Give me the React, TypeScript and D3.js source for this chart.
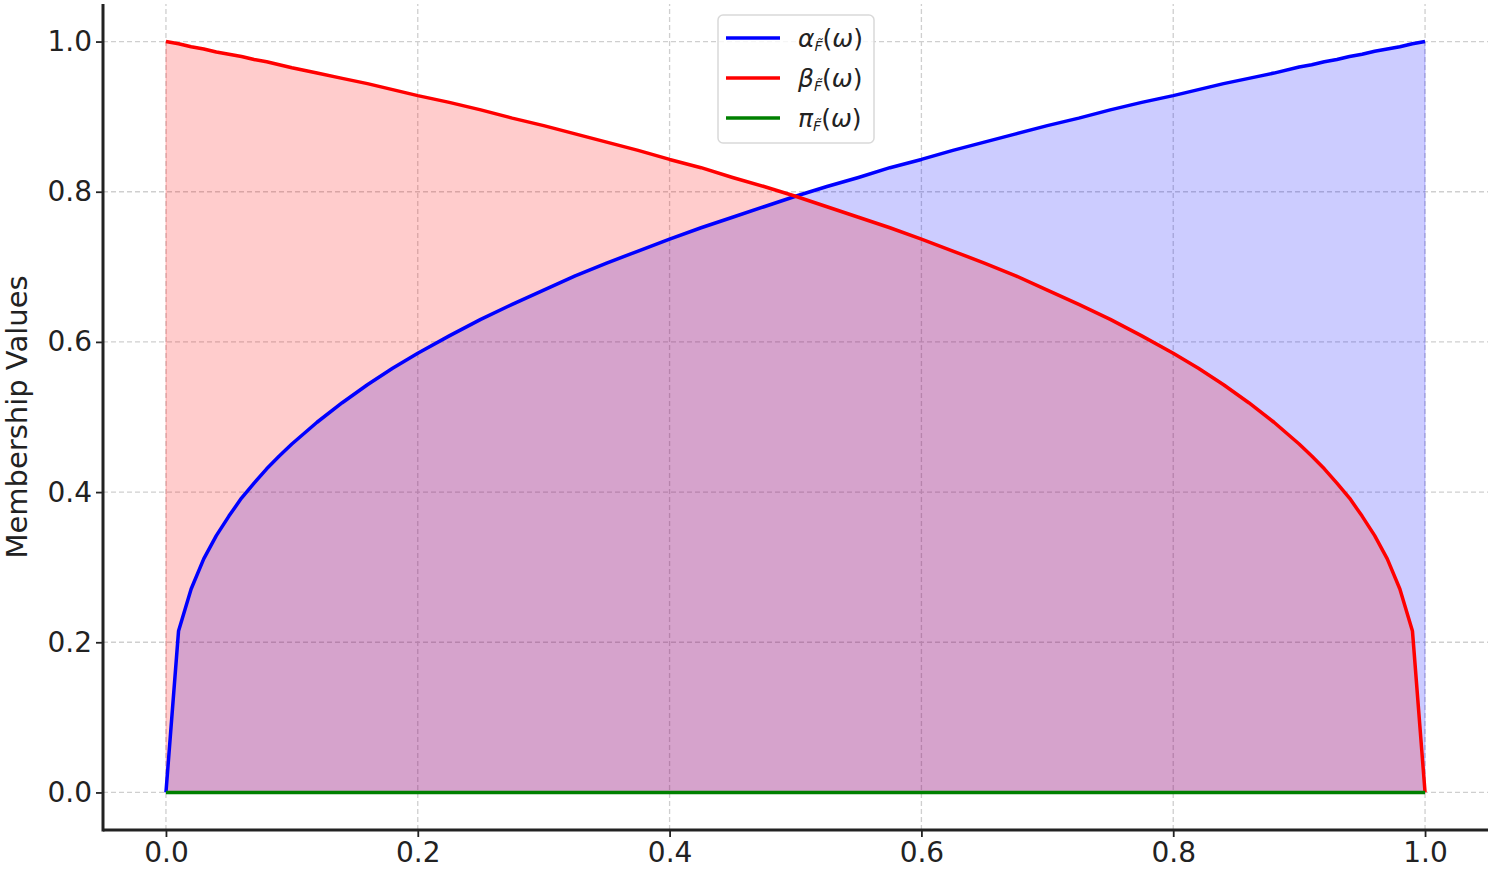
import React, { useRef, useEffect } from "react";
import * as d3 from "d3";

// sample points (omega) and the membership values
const omega = [
  0, 0.01, 0.02, 0.03, 0.04, 0.05, 0.06, 0.07, 0.08, 0.09, 0.1, 0.12, 0.14,
  0.16, 0.18, 0.2, 0.225, 0.25, 0.275, 0.3, 0.325, 0.35, 0.375, 0.4, 0.425,
  0.45, 0.475, 0.5, 0.525, 0.55, 0.575, 0.6, 0.625, 0.65, 0.675, 0.7, 0.725,
  0.75, 0.775, 0.8, 0.82, 0.84, 0.86, 0.88, 0.9, 0.91, 0.92, 0.93, 0.94, 0.95,
  0.96, 0.97, 0.98, 0.99, 1.0,
];
const alphaValues = [
  0, 0.215, 0.271, 0.311, 0.342, 0.368, 0.392, 0.412, 0.431, 0.448, 0.464,
  0.493, 0.519, 0.543, 0.565, 0.585, 0.608, 0.63, 0.65, 0.669, 0.688, 0.705,
  0.721, 0.737, 0.752, 0.766, 0.78, 0.794, 0.807, 0.819, 0.832, 0.843, 0.855,
  0.866, 0.877, 0.888, 0.898, 0.909, 0.919, 0.928, 0.936, 0.944, 0.951, 0.958,
  0.966, 0.969, 0.973, 0.976, 0.98, 0.983, 0.987, 0.99, 0.993, 0.997, 1.0,
];
const betaValues = [
  1.0, 0.997, 0.993, 0.99, 0.986, 0.983, 0.98, 0.976, 0.973, 0.969, 0.965,
  0.958, 0.951, 0.944, 0.936, 0.928, 0.919, 0.909, 0.898, 0.888, 0.877, 0.866,
  0.855, 0.843, 0.832, 0.819, 0.807, 0.794, 0.78, 0.766, 0.752, 0.737, 0.721,
  0.705, 0.688, 0.669, 0.65, 0.63, 0.608, 0.585, 0.565, 0.543, 0.519, 0.493,
  0.464, 0.448, 0.431, 0.412, 0.392, 0.368, 0.342, 0.311, 0.271, 0.215, 0,
];
const piValues = omega.map(() => 0);

const xTicks = [0, 0.2, 0.4, 0.6, 0.8, 1.0];
const yTicks = [0, 0.2, 0.4, 0.6, 0.8, 1.0];

const legendItems = [
  { color: "#0000ff", sym: "α" },
  { color: "#ff0000", sym: "β" },
  { color: "#008000", sym: "π" },
];

const W = 1499;
const H = 874;
const FONT = "'DejaVu Sans', sans-serif";

const App: React.FC = () => {
  const svgRef = useRef<SVGSVGElement>(null);

  useEffect(() => {
    if (!svgRef.current) return;
    const svg = d3.select(svgRef.current);
    svg.selectAll("*").remove();

    const margin = { top: 4, right: 11, bottom: 44, left: 103 };

    const x = d3
      .scaleLinear()
      .domain([-0.05, 1.05])
      .range([margin.left, W - margin.right]);
    const y = d3
      .scaleLinear()
      .domain([-0.05, 1.05])
      .range([H - margin.bottom, margin.top]);

    // Grid
    const grid = svg.append("g");
    xTicks.forEach((t) => {
      grid
        .append("line")
        .attr("x1", x(t))
        .attr("x2", x(t))
        .attr("y1", y(-0.05))
        .attr("y2", y(1.05))
        .attr("stroke", "#cfcfcf")
        .attr("stroke-width", 1.3)
        .attr("stroke-dasharray", "5,3");
    });
    yTicks.forEach((t) => {
      grid
        .append("line")
        .attr("x1", x(-0.05))
        .attr("x2", x(1.05))
        .attr("y1", y(t))
        .attr("y2", y(t))
        .attr("stroke", "#cfcfcf")
        .attr("stroke-width", 1.3)
        .attr("stroke-dasharray", "5,3");
    });

    const idx = d3.range(omega.length);

    const area = (vals: number[]) =>
      d3
        .area<number>()
        .x((i) => x(omega[i]))
        .y0(y(0))
        .y1((i) => y(vals[i]))(idx);

    // Fills: blue first, then red on top
    svg
      .append("path")
      .attr("d", area(alphaValues))
      .attr("fill", "#0000ff")
      .attr("fill-opacity", 0.2)
      .attr("stroke", "#0000ff")
      .attr("stroke-opacity", 0.2)
      .attr("stroke-width", 1);
    svg
      .append("path")
      .attr("d", area(betaValues))
      .attr("fill", "#ff0000")
      .attr("fill-opacity", 0.2)
      .attr("stroke", "#ff0000")
      .attr("stroke-opacity", 0.2)
      .attr("stroke-width", 1);

    const line = (vals: number[]) =>
      d3
        .line<number>()
        .x((i) => x(omega[i]))
        .y((i) => y(vals[i]))(idx);

    [
      { vals: alphaValues, color: "#0000ff" },
      { vals: betaValues, color: "#ff0000" },
      { vals: piValues, color: "#008000" },
    ].forEach((s) => {
      svg
        .append("path")
        .attr("d", line(s.vals))
        .attr("fill", "none")
        .attr("stroke", s.color)
        .attr("stroke-width", 3.5)
        .attr("stroke-linejoin", "round");
    });

    // Axes
    const xAxis = svg
      .append("g")
      .attr("transform", `translate(0,${y(-0.05)})`)
      .call(
        d3
          .axisBottom(x)
          .tickValues(xTicks)
          .tickFormat(d3.format(".1f"))
          .tickSize(7)
          .tickPadding(5)
      );
    const yAxis = svg
      .append("g")
      .attr("transform", `translate(${x(-0.05)},0)`)
      .call(
        d3
          .axisLeft(y)
          .tickValues(yTicks)
          .tickFormat(d3.format(".1f"))
          .tickSize(7)
          .tickPadding(4)
      );
    [xAxis, yAxis].forEach((a) => {
      a.select(".domain").remove();
      a.selectAll(".tick line").attr("stroke", "#222").attr("stroke-width", 1.8);
      a.selectAll("text")
        .attr("font-family", FONT)
        .attr("font-size", 28)
        .attr("fill", "#222");
    });
    svg
      .append("line")
      .attr("x1", x(-0.05))
      .attr("x2", x(1.05))
      .attr("y1", y(-0.05))
      .attr("y2", y(-0.05))
      .attr("stroke", "#222")
      .attr("stroke-width", 3);
    svg
      .append("line")
      .attr("x1", x(-0.05))
      .attr("x2", x(-0.05))
      .attr("y1", y(-0.05) + 1.5)
      .attr("y2", y(1.05))
      .attr("stroke", "#222")
      .attr("stroke-width", 3);

    // Y label
    svg
      .append("text")
      .attr("transform", `translate(27,${(y(-0.05) + y(1.05)) / 2}) rotate(-90)`)
      .attr("text-anchor", "middle")
      .attr("font-family", FONT)
      .attr("font-size", 29)
      .attr("fill", "#222")
      .text("Membership Values");

    // Legend
    const legend = svg.append("g").attr("transform", "translate(718,15)");
    legend
      .append("rect")
      .attr("width", 156)
      .attr("height", 128)
      .attr("rx", 5)
      .attr("fill", "#fff")
      .attr("fill-opacity", 0.8)
      .attr("stroke", "#d9d9d9")
      .attr("stroke-width", 1.5);

    legendItems.forEach((item, i) => {
      const g = legend.append("g").attr("transform", `translate(0,${23 + i * 40})`);
      g.append("line")
        .attr("x1", 8)
        .attr("x2", 62)
        .attr("stroke", item.color)
        .attr("stroke-width", 3.5);
      const t = g
        .append("text")
        .attr("x", 80)
        .attr("y", 9)
        .attr("font-family", FONT)
        .attr("font-size", 25)
        .attr("fill", "#222");
      t.append("tspan").attr("font-style", "italic").text(item.sym);
      t.append("tspan")
        .attr("font-size", 14)
        .attr("font-style", "italic")
        .attr("dy", 4)
        .text("F\u0303");
      t.append("tspan").attr("dy", -4).text("(");
      t.append("tspan").attr("font-style", "italic").text("ω");
      t.append("tspan").text(")");
    });
  }, []);

  return (
    <svg
      ref={svgRef}
      width={W}
      height={H}
      style={{ position: "absolute", left: 0, top: 0, background: "#fff" }}
    ></svg>
  );
};

export default App;
